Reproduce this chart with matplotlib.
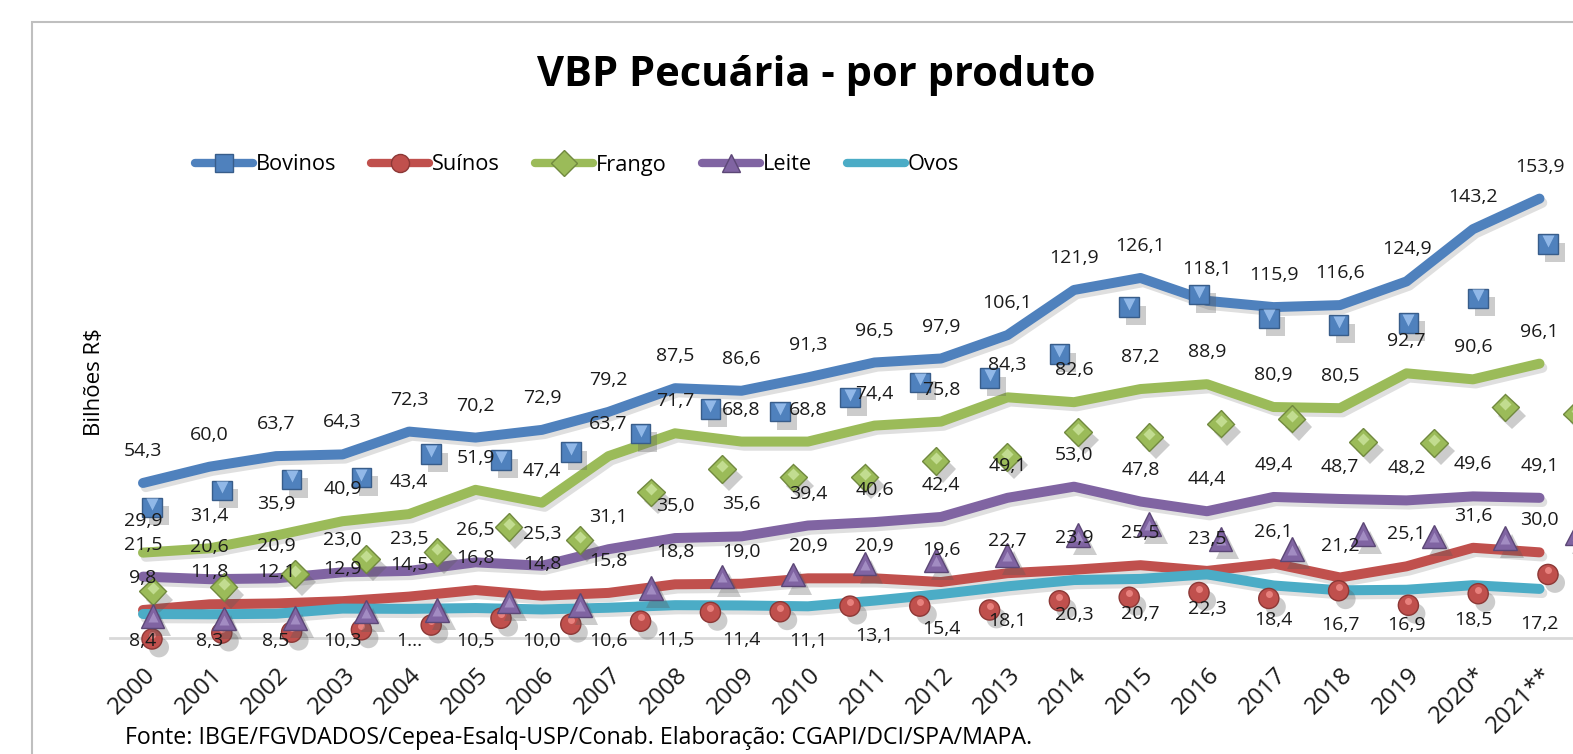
import matplotlib.pyplot as plt
import matplotlib.patheffects as pe
import matplotlib.transforms as mtransforms
from matplotlib.lines import Line2D
from matplotlib.patches import Rectangle

plt.rcParams['font.family'] = ['Open Sans', 'DejaVu Sans']

anos = ['2000', '2001', '2002', '2003', '2004', '2005', '2006', '2007', '2008', '2009', '2010',
        '2011', '2012', '2013', '2014', '2015', '2016', '2017', '2018', '2019', '2020*', '2021**']

bovinos = [54.3, 60.0, 63.7, 64.3, 72.3, 70.2, 72.9, 79.2, 87.5, 86.6, 91.3,
           96.5, 97.9, 106.1, 121.9, 126.1, 118.1, 115.9, 116.6, 124.9, 143.2, 153.9]
suinos = [9.8, 11.8, 12.1, 12.9, 14.5, 16.8, 14.8, 15.8, 18.8, 19.0, 20.9,
          20.9, 19.6, 22.7, 23.9, 25.5, 23.5, 26.1, 21.2, 25.1, 31.6, 30.0]
frango = [29.9, 31.4, 35.9, 40.9, 43.4, 51.9, 47.4, 63.7, 71.7, 68.8, 68.8,
          74.4, 75.8, 84.3, 82.6, 87.2, 88.9, 80.9, 80.5, 92.7, 90.6, 96.1]
leite = [21.5, 20.6, 20.9, 23.0, 23.5, 26.5, 25.3, 31.1, 35.0, 35.6, 39.4,
         40.6, 42.4, 49.1, 53.0, 47.8, 44.4, 49.4, 48.7, 48.2, 49.6, 49.1]
ovos = [8.4, 8.3, 8.5, 10.3, 10.2, 10.5, 10.0, 10.6, 11.5, 11.4, 11.1,
        13.1, 15.4, 18.1, 20.3, 20.7, 22.3, 18.4, 16.7, 16.9, 18.5, 17.2]

nomes = ['Bovinos', 'Suínos', 'Frango', 'Leite', 'Ovos']
cores = ['#4F81BD', '#C0504D', '#9BBB59', '#8064A2', '#4BACC6']
bordas = ['#385D8A', '#8C3836', '#71893F', '#5C4776', '#357D91']
claras = ['#9DC3F0', '#F08A86', '#C9E29A', '#A994C8', '#8FD3E6']


def fmt(v):
    return f'{v:.1f}'.replace('.', ',')


W, H = 1573, 754
XMAX, YMAX = 21.5, 160
fig = plt.figure(figsize=(W / 100, H / 100), dpi=100)


def box(x0, dx, y0, dy):
    # category i at x0 + i*dx px, value v at y0 - v*dy px (from top)
    return [(x0 - 0.5 * dx) / W, (H - y0) / H, (XMAX + 0.5) * dx / W, YMAX * dy / H]


def new_axes(rect):
    a = fig.add_axes(rect)
    a.set_xlim(-0.5, XMAX)
    a.set_ylim(0, YMAX)
    a.patch.set_visible(False)
    return a


x = list(range(len(anos)))

# lines
ax = new_axes(box(143, 66.5, 638, 2.855))
for s in ['top', 'right', 'left']:
    ax.spines[s].set_visible(False)
ax.spines['bottom'].set_color('#D9D9D9')
ax.spines['bottom'].set_linewidth(2)
ax.set_yticks([])
ax.set_xticks(x)
ax.set_xticklabels(anos, rotation=45, ha='right', va='center', rotation_mode='anchor')
ax.tick_params(axis='x', length=0, pad=24, labelsize=17.5, labelcolor='#1a1a1a')
shift = mtransforms.ScaledTranslation(9 / 100, 0, fig.dpi_scale_trans)
for t in ax.get_xticklabels():
    t.set_transform(t.get_transform() + shift)

line_shadow = [pe.SimpleLineShadow(offset=(2, -3), shadow_color='0.5', alpha=0.25), pe.Normal()]
for vals, c in zip([bovinos, suinos, frango, leite, ovos], cores):
    ax.plot(x, vals, color=c, lw=7.2, solid_capstyle='round', solid_joinstyle='round',
            path_effects=line_shadow)

# markers (drawn displaced, as in the source image)
mk_shadow = [pe.SimplePatchShadow(offset=(5, -6), shadow_rgbFace='0.35', alpha=0.3), pe.Normal()]


def markers(a, vals, k, m, ms, hl_m, hl_ms, hl_dy):
    a.plot(x, vals, ls='none', marker=m, ms=ms, mfc=cores[k], mec=bordas[k], mew=1,
           clip_on=False, path_effects=mk_shadow)
    up = mtransforms.offset_copy(a.transData, fig=fig, x=0, y=hl_dy, units='dots')
    a.plot(x, vals, ls='none', marker=hl_m, ms=hl_ms, mfc=claras[k], mec='none',
           alpha=0.85, clip_on=False, transform=up)


axA = new_axes(box(152, 69.8, 668, 2.96))
axA.axis('off')
markers(axA, bovinos, 0, 's', 14, 'v', 9, 3)
markers(axA, suinos, 1, 'o', 14.5, 'o', 5, 4)

axB = new_axes(box(152.5, 71.2, 679, 2.93))
axB.axis('off')
markers(axB, frango, 2, 'D', 14, 'D', 6, 3)
markers(axB, leite, 3, '^', 17, '^', 7, -1)

# data labels
axL = new_axes(box(143, 66.5, 638, 2.855))
axL.axis('off')
for vals in [bovinos, suinos, frango, leite]:
    for i, v in enumerate(vals):
        axL.annotate(fmt(v), (i, v), xytext=(0, 23), textcoords='offset points',
                     ha='center', va='center', fontsize=14, color='#1a1a1a', annotation_clip=False)
ovos_lbl = [fmt(v) for v in ovos]
ovos_lbl[4] = '1...'
for i, v in enumerate(ovos):
    dy = min(35, 3 + 2.855 * v) * 0.72
    axL.annotate(ovos_lbl[i], (i, v), xytext=(0, -dy), textcoords='offset points',
                 ha='center', va='center', fontsize=14, color='#1a1a1a', annotation_clip=False)

# legend
marks = ['s', 'o', 'D', '^', None]
handles = [Line2D([], [], color=c, lw=6, solid_capstyle='round', marker=m, ms=13,
                  mfc=c, mec=b, mew=1) for c, b, m in zip(cores, bordas, marks)]
fig.legend(handles, nomes, ncol=5, loc='center', bbox_to_anchor=(577 / W, 1 - 165 / H),
           frameon=False, fontsize=15.7, handlelength=2.65, handletextpad=0.15,
           columnspacing=1.6)

fig.text(816 / W, 1 - 76 / H, 'VBP Pecuária - por produto', ha='center', va='center',
         fontsize=30, fontweight='bold')
fig.text(95 / W, 1 - 382 / H, 'Bilhões R$', rotation=90, ha='center', va='center', fontsize=16)
fig.text(125 / W, 1 - 738 / H,
         'Fonte: IBGE/FGVDADOS/Cepea-Esalq-USP/Conab. Elaboração: CGAPI/DCI/SPA/MAPA.',
         ha='left', va='center', fontsize=16.7)

fig.add_artist(Rectangle((32 / W, -0.1), 1.2, 1.1 - 22 / H, transform=fig.transFigure,
                         fill=False, ec='#BFBFBF', lw=1.5))

fig.savefig('out.png', dpi=100)
